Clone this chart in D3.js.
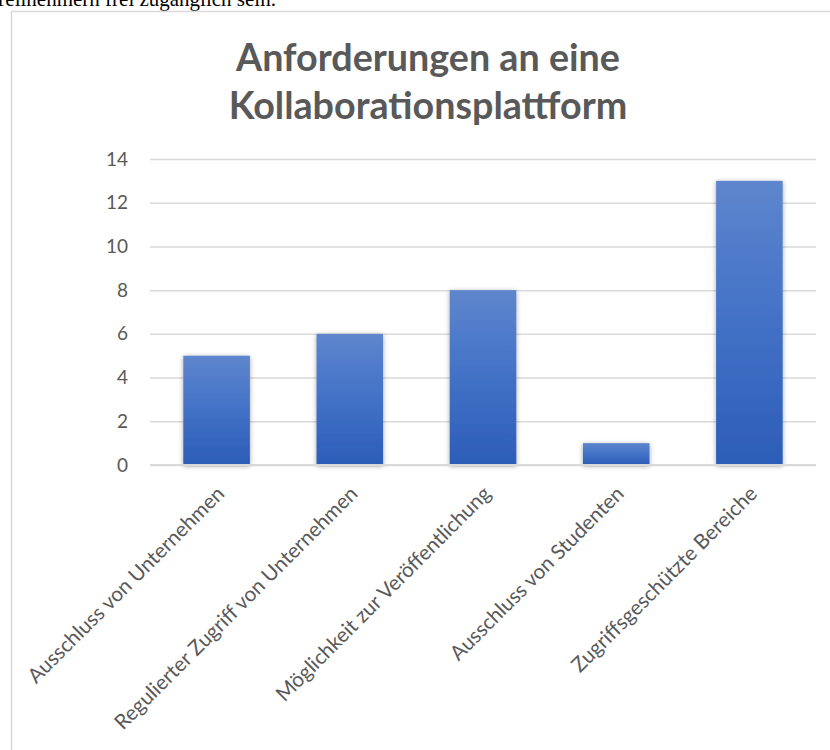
<!DOCTYPE html>
<html>
<head>
<meta charset="utf-8">
<script src="https://cdn.jsdelivr.net/npm/d3@7"></script>
<style>
  html, body { margin: 0; padding: 0; background: #ffffff; }
  svg { display: block; }
</style>
</head>
<body>
<svg id="chart" width="830" height="750"></svg>
<script>
// ---- data ----
const categories = [
  "Ausschluss von Unternehmen",
  "Regulierter Zugriff von Unternehmen",
  "Möglichkeit zur Veröffentlichung",
  "Ausschluss von Studenten",
  "Zugriffsgeschützte Bereiche"
];
const values = [5, 6, 8, 1, 13];
const yTicks = [0, 2, 4, 6, 8, 10, 12, 14];
const titleLines = ["Anforderungen an eine", "Kollaborationsplattform"];
const pageText = "Teilnehmern frei zugänglich sein.";

// ---- layout ----
const W = 830, H = 750;
const plot = { left: 150, right: 816, top: 159, bottom: 465 };
const textColor = "#595959";
const gridColor = "#d9d9d9";
const font = "Lato, 'Open Sans', sans-serif";

const svg = d3.select("#chart");

// gradient + shadow
const defs = svg.append("defs");
const grad = defs.append("linearGradient")
  .attr("id", "barGrad").attr("x1", 0).attr("y1", 0).attr("x2", 0).attr("y2", 1);
grad.append("stop").attr("offset", "0%").attr("stop-color", "#5e86cd");
grad.append("stop").attr("offset", "50%").attr("stop-color", "#4271c6");
grad.append("stop").attr("offset", "100%").attr("stop-color", "#2c5db7");
const filt = defs.append("filter").attr("id", "shadow")
  .attr("x", "-30%").attr("y", "-30%").attr("width", "160%").attr("height", "160%");
filt.append("feDropShadow").attr("dx", 0).attr("dy", 1).attr("stdDeviation", 2.5)
  .attr("flood-color", "#000").attr("flood-opacity", 0.35);

// surrounding document text (cut off at the top)
svg.append("text")
  .attr("x", -6).attr("y", 6)
  .attr("font-family", "'Liberation Serif', 'Times New Roman', serif")
  .attr("font-size", 21)
  .attr("fill", "#000")
  .text(pageText);

// chart frame
svg.append("rect")
  .attr("x", 11.5).attr("y", 11.5)
  .attr("width", W).attr("height", H)
  .attr("fill", "#fff")
  .attr("stroke", gridColor).attr("stroke-width", 1.5);

// title
const title = svg.append("g");
const tl = title.selectAll("text").data(titleLines).enter().append("text")
  .attr("x", 428).attr("y", (d, i) => 71 + i * 48)
  .attr("text-anchor", "middle")
  .attr("font-family", font).attr("font-weight", 700)
  .attr("font-size", 36)
  .attr("fill", textColor)
  .text(d => d);
// fit title size to the reference width of the first line
{
  const n = tl.nodes()[0];
  const len = n.getComputedTextLength();
  const fs = 36 * 384 / len;
  tl.attr("font-size", fs);
}

// scales
const x = d3.scaleBand().domain(categories)
  .range([plot.left, plot.right]).paddingInner(0.5).paddingOuter(0.25);
const y = d3.scaleLinear().domain([0, 14]).range([plot.bottom, plot.top]);

// gridlines
const yAxis = d3.axisLeft(y).tickValues(yTicks).tickSize(-(plot.right - plot.left)).tickPadding(22);
const gy = svg.append("g").attr("transform", `translate(${plot.left},0)`).call(yAxis);
gy.select(".domain").remove();
gy.selectAll(".tick line").attr("stroke", gridColor).attr("stroke-width", 1.5);
gy.selectAll(".tick text")
  .attr("fill", textColor).attr("font-family", font).attr("font-size", 19);

// bars
svg.append("g").selectAll("rect").data(values).enter().append("rect")
  .attr("x", (d, i) => x(categories[i]))
  .attr("y", d => y(d))
  .attr("width", x.bandwidth())
  .attr("height", d => y(0) - y(d))
  .attr("fill", "url(#barGrad)")
  .attr("filter", "url(#shadow)");

// baseline
svg.append("line")
  .attr("x1", plot.left).attr("x2", plot.right)
  .attr("y1", y(0)).attr("y2", y(0))
  .attr("stroke", gridColor).attr("stroke-width", 2);

// category labels
const xl = svg.append("g").selectAll("text").data(categories).enter().append("text")
  .attr("transform", d => `translate(${x(d) + x.bandwidth() / 2 + 9},${y(0) + 30}) rotate(-45)`)
  .attr("text-anchor", "end")
  .attr("font-family", font).attr("font-size", 19)
  .attr("fill", textColor)
  .text(d => d);
{
  const len = xl.nodes()[0].getComputedTextLength();
  xl.attr("font-size", 19 * 268 / len);
}
</script>
</body>
</html>
